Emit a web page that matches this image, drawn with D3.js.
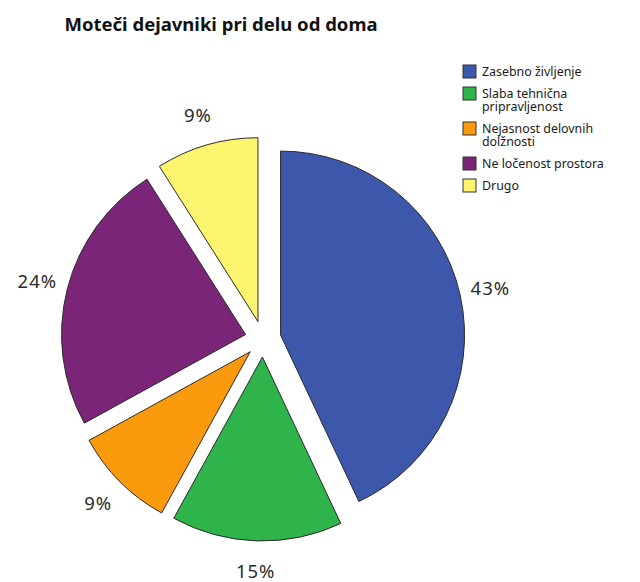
<!DOCTYPE html>
<html>
<head>
<meta charset="utf-8">
<script src="https://cdn.jsdelivr.net/npm/d3@7"></script>
<style>
  html, body { margin: 0; padding: 0; background: #fff; }
  svg { display: block; font-family: "Noto Sans", "Open Sans", sans-serif; }
</style>
</head>
<body>
<svg id="chart" width="640" height="582"></svg>
<script>
// Distracting factors while working from home (share of answers, %)
const categories = [
  "Zasebno življenje",
  "Slaba tehnična pripravljenost",
  "Nejasnost delovnih dolžnosti",
  "Ne ločenost prostora",
  "Drugo"
];
const shares = [43, 15, 9, 24, 9];
const colors = ["#3d57ab", "#2fb34b", "#fa9a0c", "#7a2578", "#fdf470"];
const titleText = "Moteči dejavniki pri delu od doma";

const svg = d3.select("#chart");
const cx = 263, cy = 339, radius = 184, explode = 18, labelRadius = 233;

svg.append("text")
  .attr("x", 221).attr("y", 31)
  .attr("text-anchor", "middle")
  .attr("font-size", 18.5).attr("font-weight", 700)
  .attr("fill", "#111")
  .text(titleText);

const pie = d3.pie().sort(null).value(d => d.value);
const arcs = pie(categories.map((c, i) => ({ name: c, value: shares[i], color: colors[i] })));
const arc = d3.arc().innerRadius(0).outerRadius(radius);
const dir = a => [Math.sin(a), -Math.cos(a)];

const g = svg.append("g").attr("transform", `translate(${cx},${cy})`);

g.selectAll("path.slice")
  .data(arcs)
  .join("path")
  .attr("class", "slice")
  .attr("d", arc)
  .attr("transform", d => {
    const [ux, uy] = dir((d.startAngle + d.endAngle) / 2);
    return `translate(${ux * explode},${uy * explode})`;
  })
  .attr("fill", d => d.data.color)
  .attr("stroke", "#2b2b2b")
  .attr("stroke-width", 1);

// Percentage labels outside each slice, on the slice's mid angle
g.selectAll("text.pct")
  .data(arcs)
  .join("text")
  .attr("class", "pct")
  .attr("x", d => dir((d.startAngle + d.endAngle) / 2)[0] * labelRadius)
  .attr("y", d => dir((d.startAngle + d.endAngle) / 2)[1] * labelRadius)
  .attr("dy", "0.35em")
  .attr("text-anchor", "middle")
  .attr("font-size", 18.5)
  .attr("letter-spacing", 1)
  .attr("fill", "#2a2a2a")
  .text(d => d.data.value + "%");

// Legend with wrapped entries
const legend = svg.append("g").attr("transform", "translate(463,65)");
const swatch = 13, textX = 19, lineH = 13, maxW = 156;
let yOff = 0;
arcs.forEach(d => {
  const item = legend.append("g").attr("transform", `translate(0,${yOff})`);
  item.append("rect")
    .attr("width", swatch).attr("height", swatch)
    .attr("fill", d.data.color)
    .attr("stroke", "#333").attr("stroke-width", 1);
  const t = item.append("text")
    .attr("x", textX).attr("y", 11)
    .attr("font-size", 12.4).attr("fill", "#1a1a1a");
  const words = d.data.name.split(" ");
  let line = [], tspan = t.append("tspan").attr("x", textX).attr("y", 11), lines = 1;
  words.forEach(w => {
    line.push(w);
    tspan.text(line.join(" "));
    if (tspan.node().getComputedTextLength() > maxW && line.length > 1) {
      line.pop();
      tspan.text(line.join(" "));
      line = [w];
      tspan = t.append("tspan").attr("x", textX).attr("y", 11 + lines * lineH).text(w);
      lines++;
    }
  });
  yOff += 9 + lines * lineH;
});
</script>
</body>
</html>
